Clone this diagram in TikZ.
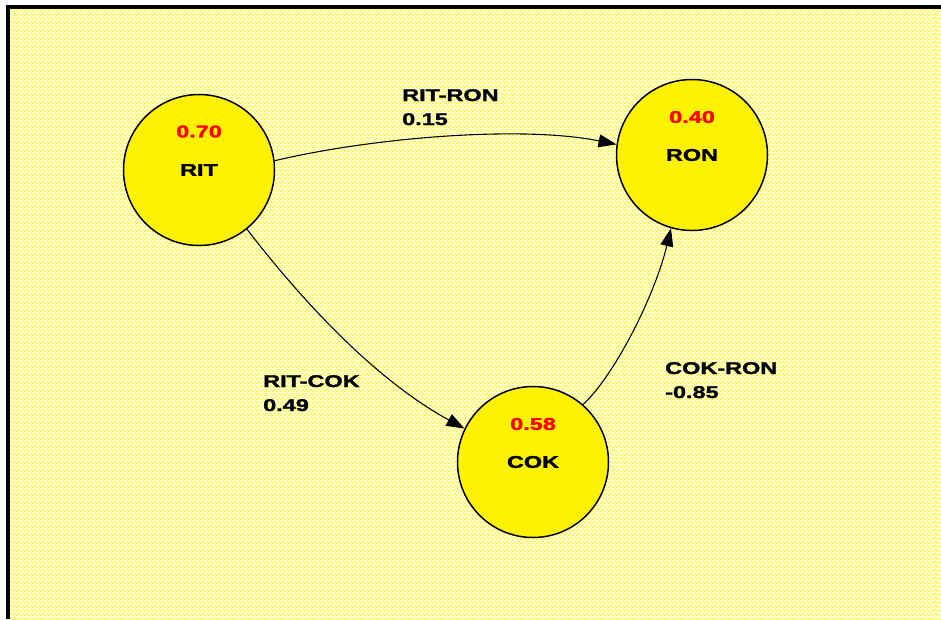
\documentclass[tikz,border=0pt]{standalone}
\usepackage{fontspec}
\setmainfont{Liberation Sans}[BoldFeatures={FakeBold=1.5}]
\usetikzlibrary{arrows.meta,patterns}
\pgfdeclarepatternformonly{ydots}{\pgfqpoint{0pt}{0pt}}{\pgfqpoint{4pt}{4pt}}{\pgfqpoint{4pt}{4pt}}{%
  \pgfpathrectangle{\pgfqpoint{0pt}{0pt}}{\pgfqpoint{1.6pt}{1.6pt}}%
  \pgfpathrectangle{\pgfqpoint{2pt}{2pt}}{\pgfqpoint{1.6pt}{1.6pt}}%
  \pgfusepath{fill}}
\newcommand{\sx}[1]{\scalebox{1.38}[1]{#1}}
\newcommand{\twoline}[2]{\scalebox{1.38}[1]{\begin{tabular}[t]{@{}l@{}}#1\\#2\end{tabular}}}
\begin{document}
\begin{tikzpicture}[x=1pt,y=-1pt,
  every node/.style={font=\fontsize{17}{24}\selectfont\bfseries},
  var/.style={circle,draw=black,line width=1.5pt,fill=yellow,minimum size=151pt,inner sep=0pt},
  val/.style={text=red,inner sep=0pt},
  elabel/.style={anchor=base west,inner sep=0pt},
  edge/.style={draw=black,line width=1.1pt,-{Triangle[length=18pt,width=13pt]}}]
\useasboundingbox (0,0) rectangle (941,619);
\fill[white] (0,0) rectangle (941,619);
\fill[pattern=ydots,pattern color=yellow] (10,9) rectangle (941,619);
\fill[black] (6,5) rectangle (10,619);
\fill[black] (6,5) rectangle (941,9);

\node[var] (rit) at (199,170) {\sx{RIT}};
\node[var] (ron) at (692,155) {\sx{RON}};
\node[var] (cok) at (533,462) {\sx{COK}};

\node[val] (ritv) at ([yshift=38.5pt]rit.center) {\sx{0.70}};
\node[val] (ronv) at ([yshift=38pt]ron.center) {\sx{0.40}};
\node[val] (cokv) at ([yshift=38pt]cok.center) {\sx{0.58}};

\draw[edge] (rit.7.5) .. controls (370,138) and (520,125) .. (ron.172.5);
\draw[edge] (rit.-51.5) .. controls (345,356) and (416,402) .. (cok.154.5);
\draw[edge] (cok.49.7) .. controls (615,375) and (655,295) .. (ron.-106.4);

\node[elabel] (l1) at (402,101) {\twoline{RIT-RON}{0.15}};
\node[elabel] (l2) at (263,387) {\twoline{RIT-COK}{0.49}};
\node[elabel] (l3) at (665,374) {\twoline{COK-RON}{-0.85}};
\end{tikzpicture}
\end{document}
